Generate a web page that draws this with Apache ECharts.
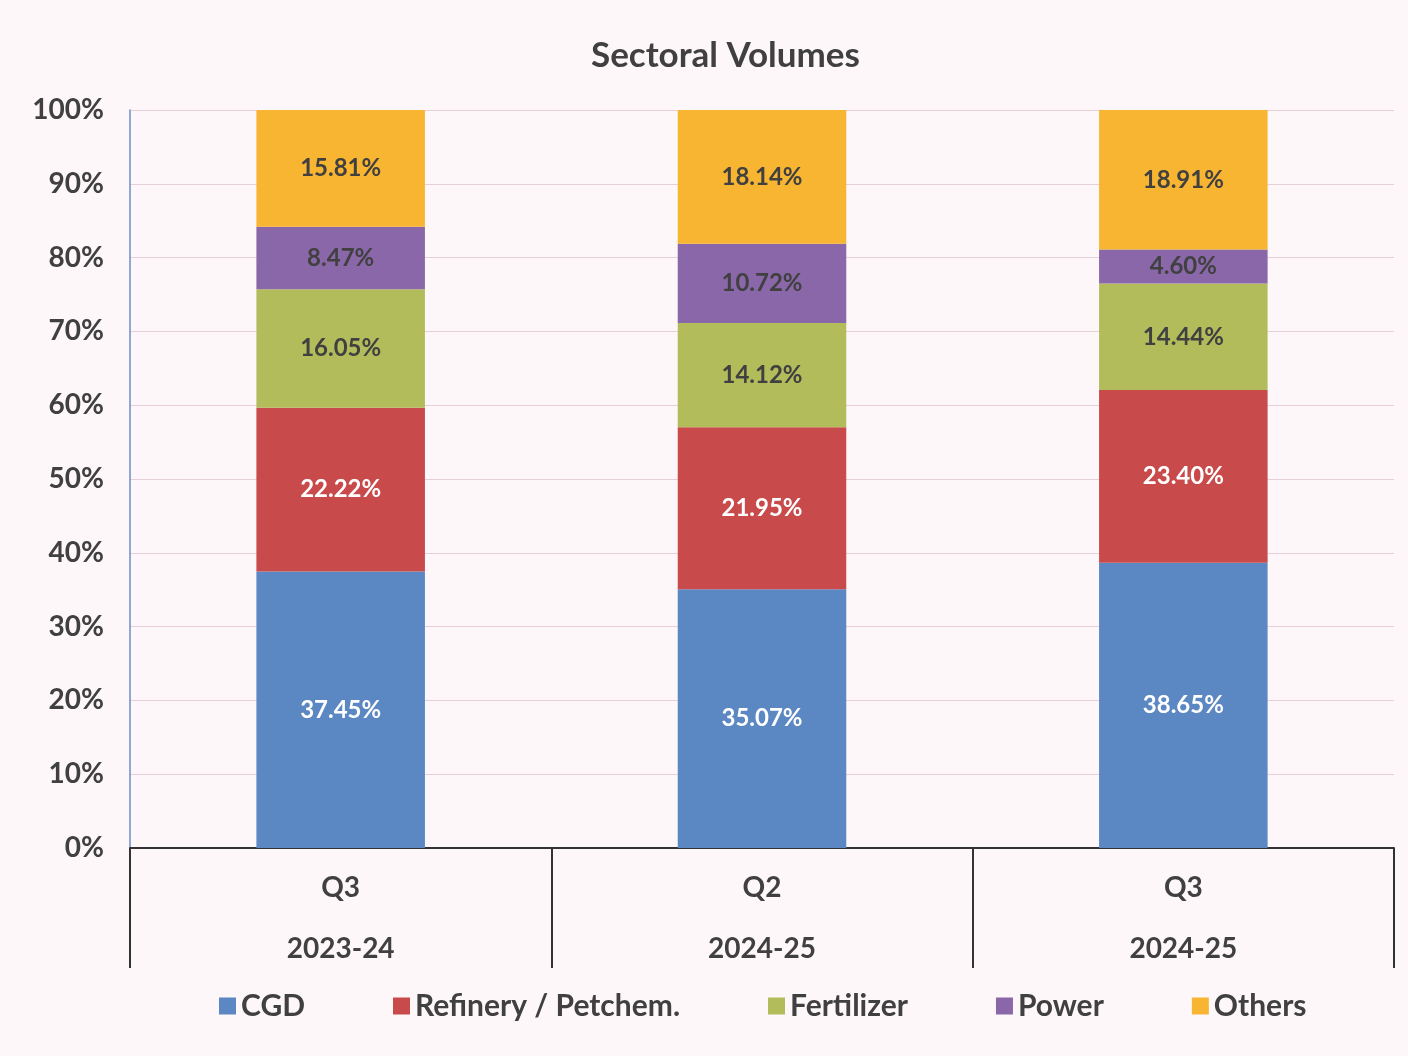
<!DOCTYPE html>
<html>
<head>
<meta charset="utf-8">
<script src="https://cdn.jsdelivr.net/npm/echarts@6/dist/echarts.min.js"></script>
<style>
  html, body { margin: 0; padding: 0; background: #fdf7f9; }
  #chart { width: 1408px; height: 1056px; }
</style>
</head>
<body>
<div id="chart"></div>
<script>
// categories (quarter + year)
const quarters = ['Q3', 'Q2', 'Q3'];
const years = ['2023-24', '2024-25', '2024-25'];
const categories = quarters.map((q, i) => q + '\n' + years[i]);

// share of volumes, %
const cgd = [37.45, 35.07, 38.65];
const refinery = [22.22, 21.95, 23.40];
const fertilizer = [16.05, 14.12, 14.44];
const power = [8.47, 10.72, 4.60];
const others = [15.81, 18.14, 18.91];

const seriesNames = ['CGD', 'Refinery / Petchem.', 'Fertilizer', 'Power', 'Others'];
const seriesData = [cgd, refinery, fertilizer, power, others];
const colors = ['#5b87c2', '#c84a4b', '#b2bc5b', '#8a67a8', '#f8b532'];
const labelColors = ['#ffffff', '#ffffff', '#404040', '#404040', '#404040'];

const FONT = 'Lato, "Open Sans", sans-serif';

const chart = echarts.init(document.getElementById('chart'));

const series = seriesNames.map((name, i) => ({
    name: name,
    type: 'bar',
    stack: 'total',
    barWidth: '40%',
    data: seriesData[i],
    itemStyle: { color: colors[i] },
    label: {
        show: true,
        position: 'inside',
        formatter: p => p.value.toFixed(2) + '%',
        color: labelColors[i],
        fontFamily: FONT,
        fontWeight: 'bold',
        fontSize: 24
    }
}));

chart.setOption({
    backgroundColor: '#fdf7f9',
    title: {
        text: 'Sectoral Volumes',
        left: 586,
        top: 33,
        textStyle: {
            fontFamily: FONT,
            fontWeight: 'bold',
            fontSize: 35,
            color: '#404040'
        }
    },
    legend: {
        bottom: 30,
        left: 214,
        itemWidth: 17,
        itemHeight: 17,
        itemGap: 88,
        icon: 'rect',
        data: seriesNames,
        textStyle: {
            fontFamily: FONT,
            fontWeight: 'bold',
            fontSize: 30,
            color: '#404040'
        }
    },
    grid: {
        left: 130,
        right: 14,
        top: 110,
        bottom: 208
    },
    xAxis: {
        type: 'category',
        data: categories,
        axisLine: { lineStyle: { color: '#333', width: 2 } },
        axisTick: { show: true, length: 120, lineStyle: { color: '#333', width: 2 } },
        axisLabel: {
            margin: 9,
            interval: 0,
            fontFamily: FONT,
            fontWeight: 'bold',
            fontSize: 28,
            lineHeight: 61,
            color: '#404040'
        }
    },
    yAxis: {
        type: 'value',
        min: 0,
        max: 100,
        interval: 10,
        axisLine: { show: true, lineStyle: { color: '#6d8fc4', width: 1.5 } },
        axisTick: { show: false },
        splitLine: { lineStyle: { color: '#e6cfd6', width: 1 } },
        axisLabel: {
            formatter: '{value}%',
            margin: 26,
            fontFamily: FONT,
            fontWeight: 'bold',
            fontSize: 28,
            color: '#404040'
        }
    },
    series: series
});
</script>
</body>
</html>
